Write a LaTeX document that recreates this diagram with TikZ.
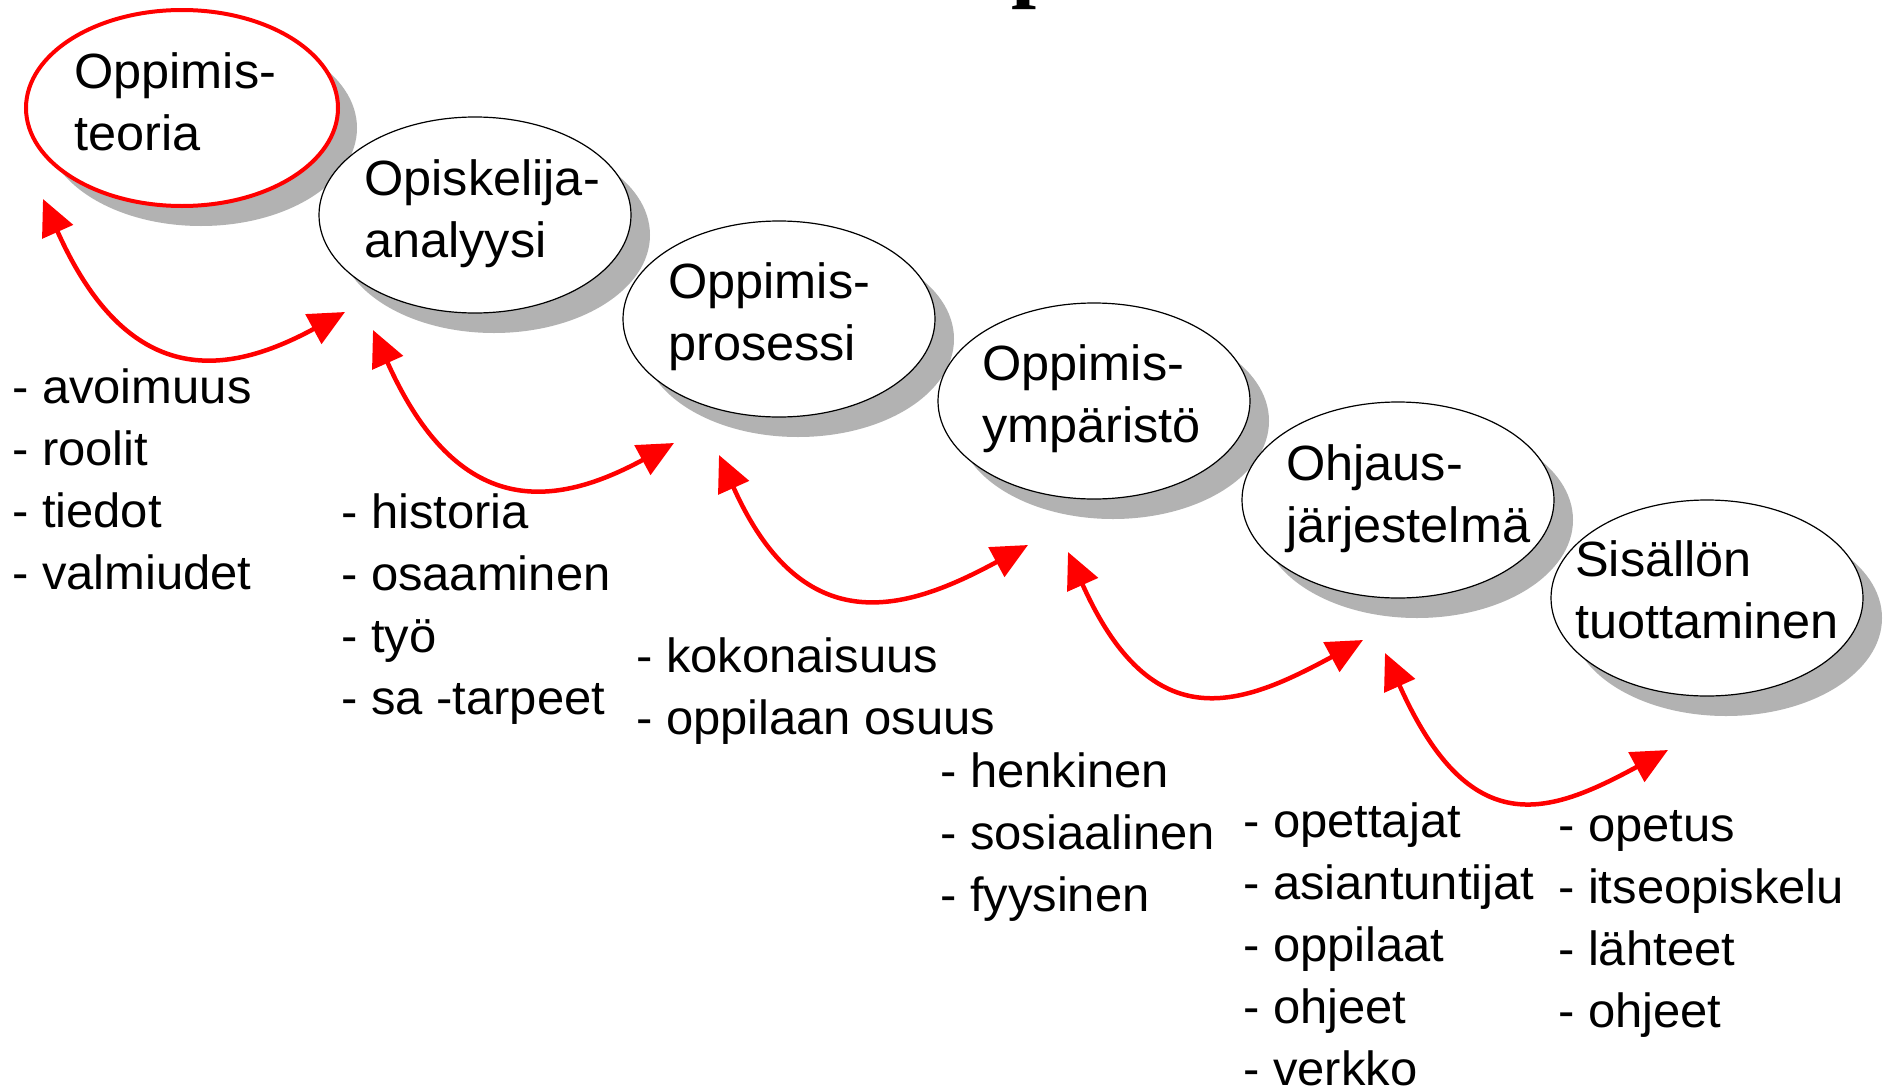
\documentclass[tikz,border=0pt]{standalone}
\usepackage{fontspec}
\setmainfont{Liberation Sans}[FakeStretch=1.02]
\newfontfamily\titlefont{Liberation Serif}
\usetikzlibrary{arrows.meta,shapes.geometric}
\definecolor{shadowgray}{RGB}{178,178,178}
\definecolor{arrowred}{RGB}{255,0,0}
\begin{document}
\begin{tikzpicture}[x=1pt,y=-1pt,
  bubble/.style={ellipse, draw=black, line width=1.2pt, fill=white,
    minimum width=312pt, minimum height=196pt, inner sep=0pt},
  redbubble/.style={bubble, draw=arrowred, line width=4pt},
  shadowbubble/.style={ellipse, fill=shadowgray, draw=none,
    minimum width=312pt, minimum height=196pt, inner sep=0pt},
  itemtext/.style={anchor=base west, inner sep=0pt, font=\fontsize{48}{62}\selectfont},
  bubbletext/.style={itemtext, font=\fontsize{49.5}{62}\selectfont},
  redlink/.style={draw=arrowred, line width=4.5pt,
    arrows={Triangle[length=36pt,width=33pt]-Triangle[length=36pt,width=33pt]}}
]
\useasboundingbox (0,0) rectangle (1883,1087);
\clip (0,0) rectangle (1883,1087);
\fill[white] (0,0) rectangle (1883,1087);

% cut-off title
\node[anchor=base west, inner sep=0pt, font={\fontsize{90}{90}\selectfont\titlefont\bfseries}] (title) at (1011,-9.5) {p};

% ellipses with shadows
\node[shadowbubble] (s1) at (201,128) {};
\node[redbubble] (e1) at (182,108) {};
\node[bubbletext] (t1) at (74,88) {\begin{tabular}[t]{@{}l@{}}Oppimis-\\teoria\end{tabular}};

\node[shadowbubble] (s2) at (494,235) {};
\node[bubble] (e2) at (475,215) {};
\node[bubbletext] (t2) at (364,195) {\begin{tabular}[t]{@{}l@{}}Opiskelija-\\analyysi\end{tabular}};

\node[shadowbubble] (s3) at (798,339) {};
\node[bubble] (e3) at (779,319) {};
\node[bubbletext] (t3) at (668,298) {\begin{tabular}[t]{@{}l@{}}Oppimis-\\prosessi\end{tabular}};

\node[shadowbubble] (s4) at (1113,421) {};
\node[bubble] (e4) at (1094,401) {};
\node[bubbletext] (t4) at (982,380) {\begin{tabular}[t]{@{}l@{}}Oppimis-\\ymp\"arist\"o\end{tabular}};

\node[shadowbubble] (s5) at (1417,520) {};
\node[bubble] (e5) at (1398,500) {};
\node[bubbletext] (t5) at (1286,480) {\begin{tabular}[t]{@{}l@{}}Ohjaus-\\j\"arjestelm\"a\end{tabular}};

\node[shadowbubble] (s6) at (1726,618) {};
\node[bubble] (e6) at (1707,598) {};
\node[bubbletext] (t6) at (1575,576) {\begin{tabular}[t]{@{}l@{}}Sis\"all\"on\\tuottaminen\end{tabular}};

% lists
\node[itemtext] (l1) at (12,403) {\begin{tabular}[t]{@{}l@{}}- avoimuus\\- roolit\\- tiedot\\- valmiudet\end{tabular}};
\node[itemtext] (l2) at (341,528) {\begin{tabular}[t]{@{}l@{}}- historia\\- osaaminen\\- ty\"o\\- sa -tarpeet\end{tabular}};
\node[itemtext] (l3) at (636,672) {\begin{tabular}[t]{@{}l@{}}- kokonaisuus\\- oppilaan osuus\end{tabular}};
\node[itemtext] (l4) at (940,787) {\begin{tabular}[t]{@{}l@{}}- henkinen\\- sosiaalinen\\- fyysinen\end{tabular}};
\node[itemtext] (l5) at (1243,837) {\begin{tabular}[t]{@{}l@{}}- opettajat\\- asiantuntijat\\- oppilaat\\- ohjeet\\- verkko\end{tabular}};
\node[itemtext] (l6) at (1558,841) {\begin{tabular}[t]{@{}l@{}}- opetus\\- itseopiskelu\\- l\"ahteet\\- ohjeet\end{tabular}};

% arrow end points
\coordinate (a1s) at (43,199);   \coordinate (a1e) at (345,312);
\coordinate (a2s) at (373,330);  \coordinate (a2e) at (674,443);
\coordinate (a3s) at (719,455);  \coordinate (a3e) at (1028,545);
\coordinate (a4s) at (1068,552); \coordinate (a4e) at (1363,640);
\coordinate (a5s) at (1385,653); \coordinate (a5e) at (1668,750);

\foreach \i in {1,...,5}{
  \draw[redlink] (a\i s) .. controls +(85,190) and +(-120,65) .. (a\i e);
}
\end{tikzpicture}
\end{document}
